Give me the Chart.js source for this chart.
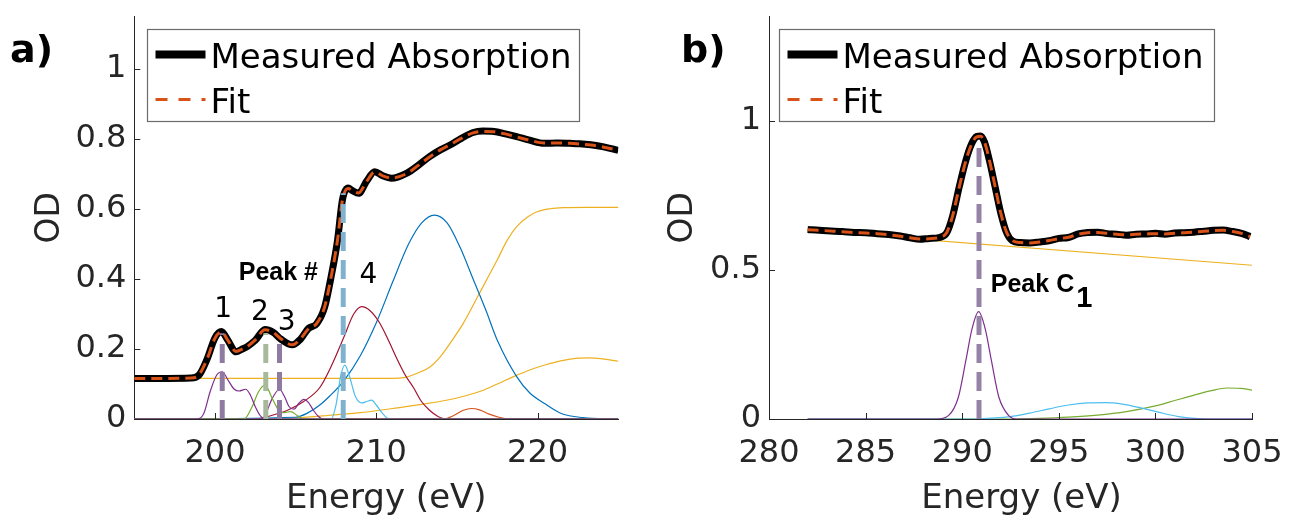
<!DOCTYPE html>
<html>
<head>
<meta charset="utf-8">
<script src="https://cdn.jsdelivr.net/npm/chart.js@4.4.1/dist/chart.umd.min.js"></script>
<style>
  html, body { margin: 0; padding: 0; background: #fff; }
  #wrap { position: relative; width: 1290px; height: 516px; }
  canvas { position: absolute; top: 0; }
  #chart-a { left: 0; }
  #chart-b { left: 645px; }
</style>
</head>
<body>
<div id="wrap">
  <canvas id="chart-a" width="645" height="516"></canvas>
  <canvas id="chart-b" width="645" height="516"></canvas>
</div>
<script>
// ---- panel a: measured spectrum and fit ----
const energyA = [195, 197, 198.5, 199.0, 199.5, 200.0, 200.4, 200.8, 201.3, 201.7, 202.0, 202.5, 203.1, 203.6,
  204.1, 204.8, 205.3, 205.8, 206.3, 206.8, 207.2, 207.6, 207.9, 208.25, 208.55, 208.9, 209.4, 209.9, 210.4,
  210.95, 211.9, 212.6, 213.3, 214.0, 214.6, 215.3, 216.0, 216.6, 217.3, 218.0, 218.7, 219.5, 220.4, 221.2,
  222.0, 222.6, 223.3, 224.1, 225.0];
const measuredA = [0.116, 0.116, 0.117, 0.125, 0.17, 0.232, 0.25, 0.225, 0.192, 0.2, 0.207, 0.225, 0.256, 0.248,
  0.228, 0.212, 0.228, 0.259, 0.272, 0.32, 0.407, 0.512, 0.626, 0.66, 0.652, 0.645, 0.68, 0.707, 0.695,
  0.688, 0.703, 0.725, 0.75, 0.77, 0.784, 0.803, 0.819, 0.823, 0.822, 0.815, 0.807, 0.797, 0.788, 0.789,
  0.788, 0.787, 0.784, 0.778, 0.768];
const fitA = [0.116, 0.116, 0.117, 0.126, 0.17, 0.231, 0.249, 0.225, 0.193, 0.2, 0.207, 0.226, 0.255, 0.248,
  0.229, 0.212, 0.229, 0.258, 0.273, 0.321, 0.406, 0.513, 0.625, 0.659, 0.652, 0.646, 0.679, 0.706, 0.695,
  0.689, 0.702, 0.725, 0.749, 0.77, 0.785, 0.803, 0.818, 0.822, 0.821, 0.815, 0.806, 0.797, 0.789, 0.789,
  0.788, 0.786, 0.783, 0.777, 0.768];

// fitted components, [energy, OD]
const peak1A = [[195, 0], [198.9, 0], [199.3, 0.015], [199.7, 0.078], [200.1, 0.125], [200.45, 0.135], [200.8, 0.112],
  [201.2, 0.085], [201.5, 0.08], [201.9, 0.085], [202.2, 0.068], [202.5, 0.035], [202.8, 0.01], [203.1, 0], [225, 0]];
const peak2A = [[195, 0], [201.8, 0], [202.3, 0.035], [202.7, 0.078], [203.1, 0.097], [203.6, 0.054], [204.1, 0.018],
  [204.4, 0.019], [204.7, 0.021], [205.1, 0.01], [205.5, 0], [225, 0]];
const peak3A = [[195, 0], [202.9, 0], [203.2, 0.02], [203.5, 0.054], [204.0, 0.085], [204.3, 0.065], [204.6, 0.035],
  [204.9, 0.028], [205.2, 0.045], [205.5, 0.056], [205.8, 0.047], [206.1, 0.025], [206.4, 0.008], [206.7, 0], [225, 0]];
const peak4A = [[195, 0], [207.2, 0], [207.5, 0.04], [207.8, 0.125], [208.05, 0.154], [208.35, 0.12], [208.7, 0.065],
  [209.1, 0.046], [209.4, 0.05], [209.7, 0.054], [210.0, 0.04], [210.35, 0.018], [210.8, 0], [225, 0]];
const sigmaA = [[195, 0], [202.5, 0], [203.5, 0.01], [204.5, 0.025], [205.5, 0.05], [206.5, 0.09], [207.2, 0.15],
  [208.0, 0.235], [208.6, 0.3], [209.1, 0.321], [209.6, 0.31], [210.2, 0.275], [210.7, 0.23], [211.3, 0.17],
  [211.8, 0.125], [212.3, 0.09], [212.8, 0.05], [213.3, 0.025], [213.8, 0.008], [214.3, 0], [225, 0]];
const smallA = [[195, 0], [214.2, 0], [214.8, 0.01], [215.4, 0.025], [215.9, 0.03], [216.4, 0.026], [217.0, 0.014],
  [217.6, 0.005], [218.2, 0], [225, 0]];
const broadA = [[195, 0], [205.0, 0.005], [205.7, 0.016], [206.5, 0.04], [207.1, 0.065], [208.0, 0.11], [209.0, 0.18],
  [210.0, 0.275], [211.0, 0.39], [212.0, 0.5], [212.8, 0.56], [213.6, 0.583], [214.4, 0.56], [215.2, 0.49],
  [216.0, 0.4], [216.8, 0.31], [217.5, 0.225], [218.7, 0.121], [219.5, 0.075], [220.4, 0.045], [221.5, 0.015],
  [222.8, 0.004], [225, 0]];
const stepA = [[195, 0.116], [211.0, 0.116], [211.8, 0.119], [212.5, 0.13], [213.3, 0.148], [214.0, 0.18], [214.7, 0.225],
  [215.4, 0.274], [216.4, 0.36], [217.5, 0.455], [218.1, 0.51], [218.7, 0.55], [219.4, 0.578], [220.0, 0.593],
  [220.8, 0.601], [221.6, 0.604], [223, 0.605], [225, 0.605]];
const step2A = [[195, 0], [203.5, 0], [205, 0.003], [207, 0.01], [209, 0.018], [211, 0.03], [213, 0.043], [215, 0.06],
  [216.5, 0.08], [217.5, 0.1], [218.5, 0.121], [219.5, 0.14], [220.5, 0.155], [221.5, 0.167], [222.5, 0.174],
  [223.2, 0.175], [224, 0.172], [225, 0.165]];

// peak markers: [energy, top of marker]
const markersA = [[200.45, 0.245], [203.15, 0.245], [204.0, 0.232], [207.95, 0.645]];

const xTicksA = [200, 210, 220];
const yTicksA = [0, 0.2, 0.4, 0.6, 0.8, 1];

// ---- panel b ----
const energyB = [282.0, 282.6, 283.2, 283.8, 284.4, 285.0, 285.6, 286.2, 286.8, 287.3, 287.8, 288.3, 288.8, 289.2,
  289.5, 289.85, 290.2, 290.5, 290.75, 290.95, 291.15, 291.4, 291.7, 292.0, 292.3, 292.6, 293.0, 293.5, 294.0,
  294.5, 295.0, 295.5, 296.0, 296.5, 297.0, 297.5, 298.0, 298.5, 299.0, 299.5, 300.0, 300.5, 301.0, 301.5,
  302.0, 302.5, 303.0, 303.5, 304.0, 304.5, 304.9];
const measuredB = [0.636, 0.633, 0.631, 0.629, 0.626, 0.625, 0.622, 0.619, 0.614, 0.608, 0.603, 0.606, 0.609, 0.625,
  0.68, 0.78, 0.87, 0.925, 0.948, 0.95, 0.93, 0.87, 0.78, 0.69, 0.625, 0.598, 0.592, 0.591, 0.594,
  0.598, 0.606, 0.609, 0.621, 0.626, 0.627, 0.622, 0.62, 0.617, 0.62, 0.621, 0.623, 0.62, 0.624, 0.625,
  0.627, 0.63, 0.633, 0.634, 0.629, 0.622, 0.612];
const fitB = [0.635, 0.633, 0.631, 0.628, 0.626, 0.624, 0.622, 0.618, 0.613, 0.608, 0.604, 0.605, 0.609, 0.626,
  0.681, 0.779, 0.869, 0.924, 0.947, 0.949, 0.93, 0.871, 0.781, 0.69, 0.626, 0.599, 0.592, 0.591, 0.594,
  0.599, 0.605, 0.61, 0.62, 0.625, 0.626, 0.623, 0.62, 0.618, 0.62, 0.621, 0.622, 0.621, 0.623, 0.625,
  0.627, 0.63, 0.632, 0.633, 0.629, 0.622, 0.612];

const edgeB = [[282, 0.632], [305, 0.516]];
const peakC1B = [[282, 0], [288.7, 0], [289.3, 0.012], [289.8, 0.073], [290.2, 0.2], [290.5, 0.3], [290.85, 0.36],
  [291.2, 0.3], [291.5, 0.2], [291.9, 0.073], [292.4, 0.012], [292.8, 0], [305, 0]];
const bumpB = [[282, 0], [290.5, 0], [291.5, 0.003], [292.5, 0.008], [293.5, 0.02], [294.5, 0.034], [295.5, 0.047],
  [296.5, 0.054], [297.4, 0.055], [298.3, 0.05], [299.2, 0.038], [300.2, 0.022], [301.2, 0.008], [302, 0.002],
  [303, 0], [305, 0]];
const tailB = [[282, 0], [292.5, 0], [294, 0.002], [295.5, 0.006], [297, 0.013], [298.5, 0.025], [300, 0.044],
  [301, 0.062], [302, 0.08], [302.9, 0.095], [303.7, 0.104], [304.4, 0.103], [305, 0.097]];

const markersB = [[290.87, 0.935]];

const xTicksB = [280, 285, 290, 295, 300, 305];
const yTicksB = [0, 0.5, 1];

// ---- styling ----
const FONT = "'DejaVu Sans', sans-serif";
const INK = '#262626';
const C = {
  blue: '#0072BD', orange: '#D95319', yellow: '#EDB120', purple: '#7E2F8E',
  green: '#77AC30', cyan: '#4DBEEE', red: '#A2142F'
};

const pairs = (list) => list.map(([x, y]) => ({ x, y }));
const zip = (xs, ys) => xs.map((x, i) => ({ x, y: ys[i] }));

function component(list, color) {
  return { data: pairs(list), borderColor: color, borderWidth: 1.2 };
}
function marker([e, top], color) {
  return {
    data: [{ x: e, y: 0 }, { x: e, y: top }], borderColor: color, borderWidth: 5,
    borderDash: [19, 9], cubicInterpolationMode: 'default', tension: 0, borderCapStyle: 'butt'
  };
}
function measuredSet(xs, ys) {
  return { label: 'Measured Absorption', data: zip(xs, ys), borderColor: '#000', borderWidth: 7, borderJoinStyle: 'round' };
}
function fitSet(xs, ys) {
  return { label: 'Fit', data: zip(xs, ys), borderColor: C.orange, borderWidth: 3, borderDash: [11, 6] };
}

// MATLAB-style ticks pointing into the axes
const innerTicks = {
  id: 'innerTicks',
  afterDraw(chart) {
    const { ctx, scales: { x, y } } = chart;
    ctx.save();
    ctx.strokeStyle = INK;
    ctx.lineWidth = 1;
    ctx.beginPath();
    x.ticks.forEach(t => {
      const px = Math.round(x.getPixelForValue(t.value)) + 0.5;
      ctx.moveTo(px, x.top);
      ctx.lineTo(px, x.top - 6);
    });
    y.ticks.forEach(t => {
      const py = Math.round(y.getPixelForValue(t.value)) + 0.5;
      ctx.moveTo(y.right, py);
      ctx.lineTo(y.right + 6, py);
    });
    ctx.stroke();
    ctx.restore();
  }
};

// boxed legend in the upper left corner of the plot area
const boxLegend = {
  id: 'boxLegend',
  afterDraw(chart, args, opts) {
    const { ctx, chartArea } = chart;
    const left = Math.round(chartArea.left + opts.dx) + 0.5;
    const top = Math.round(chartArea.top + opts.dy) + 0.5;
    ctx.save();
    ctx.fillStyle = '#fff';
    ctx.fillRect(left, top, opts.w, opts.h);
    ctx.strokeStyle = '#6b6b6b';
    ctx.lineWidth = 1.2;
    ctx.strokeRect(left, top, opts.w, opts.h);
    ctx.font = `34px ${FONT}`;
    ctx.textBaseline = 'alphabetic';
    ctx.textAlign = 'left';
    opts.rows.forEach((idx, i) => {
      const ds = chart.data.datasets[idx];
      const ly = top + 25 + i * 45;
      ctx.beginPath();
      ctx.strokeStyle = ds.borderColor;
      ctx.lineWidth = ds.borderWidth === 7 ? 8 : 3;
      ctx.setLineDash(ds.borderDash ? [12, 11] : []);
      ctx.moveTo(left + 8, ly);
      ctx.lineTo(left + 58, ly);
      ctx.stroke();
      ctx.setLineDash([]);
      ctx.fillStyle = '#000';
      ctx.fillText(ds.label, left + 63, ly + 13);
    });
    ctx.restore();
  }
};

// peak labels placed in data coordinates, the panel tag and the energy axis title
const peakText = {
  id: 'peakText',
  afterDraw(chart, args, opts) {
    const { ctx, chartArea, scales: { x, y } } = chart;
    ctx.save();
    ctx.fillStyle = '#000';
    ctx.textBaseline = 'alphabetic';
    opts.items.forEach(it => {
      ctx.font = it.font;
      ctx.textAlign = it.align || 'center';
      const px = x.getPixelForValue(it.x);
      const py = y.getPixelForValue(it.y);
      ctx.fillText(it.text, px, py);
      if (it.sub) {
        const w = ctx.measureText(it.text).width;
        ctx.font = it.subFont;
        ctx.textAlign = 'left';
        ctx.fillText(it.sub, px + w + 2, py + it.subDrop);
      }
    });
    ctx.font = `bold 38px ${FONT}`;
    ctx.textAlign = 'left';
    ctx.fillText(opts.tag.text, opts.tag.x, opts.tag.y);

    ctx.font = `34px ${FONT}`;
    ctx.fillStyle = INK;
    ctx.textAlign = 'center';
    ctx.fillText(opts.xTitle, (chartArea.left + chartArea.right) / 2 + opts.xTitleShift, 508);
    ctx.restore();
  }
};

function axes(xMin, xMax, xTicks, yMax, yTicks, yWidth, yTitlePad) {
  const tickFont = { family: FONT, size: 32 };
  return {
    x: {
      type: 'linear', min: xMin, max: xMax,
      afterBuildTicks: s => { s.ticks = xTicks.map(v => ({ value: v })); },
      afterFit: s => { s.height = 97; s.paddingLeft = 0; s.paddingRight = 0; },
      grid: { display: false, drawTicks: false },
      border: { display: true, color: INK, width: 1 },
      ticks: { color: INK, font: tickFont, padding: 15, maxRotation: 0, callback: v => String(v) }
    },
    y: {
      type: 'linear', min: 0, max: yMax,
      afterBuildTicks: s => { s.ticks = yTicks.map(v => ({ value: v })); },
      afterFit: s => { s.width = yWidth; s.paddingTop = 0; s.paddingBottom = 0; },
      grid: { display: false, drawTicks: false },
      border: { display: true, color: INK, width: 1 },
      ticks: { color: INK, font: tickFont, padding: 8, callback: v => String(v) },
      title: { display: true, text: 'OD', color: INK, font: { family: FONT, size: 33 }, padding: { top: yTitlePad, bottom: 0 } }
    }
  };
}

const common = {
  responsive: false,
  animation: false,
  devicePixelRatio: 1,
  events: [],
  elements: { point: { radius: 0 }, line: { cubicInterpolationMode: 'monotone', fill: false } },
};

new Chart(document.getElementById('chart-a'), {
  type: 'line',
  data: {
    datasets: [
      marker(markersA[0], '#8f7ba2'),
      marker(markersA[1], '#a6b99b'),
      marker(markersA[2], '#8f7ba2'),
      marker(markersA[3], '#80b2cf'),
      fitSet(energyA, fitA),
      measuredSet(energyA, measuredA),
      component(peak1A, C.purple),
      component(peak2A, C.green),
      component(peak3A, C.purple),
      component(peak4A, C.cyan),
      component(sigmaA, C.red),
      component(smallA, C.orange),
      component(broadA, C.blue),
      component(stepA, C.yellow),
      component(step2A, C.yellow)
    ]
  },
  options: {
    ...common,
    layout: { padding: { left: 0, top: 16.7, right: 26.7, bottom: 0 } },
    scales: axes(195, 225, xTicksA, 1.15, yTicksA, 134.3, 31),
    plugins: {
      legend: { display: false },
      tooltip: { enabled: false },
      boxLegend: { dx: 13, dy: 12, w: 432, h: 92, rows: [5, 4] },
      peakText: {
        tag: { text: 'a)', x: 10, y: 62 },
        xTitle: 'Energy (eV)', xTitleShift: 10,
        items: [
          { text: '1', x: 200.51, y: 0.291, font: `28px ${FONT}` },
          { text: '2', x: 202.78, y: 0.283, font: `28px ${FONT}` },
          { text: '3', x: 204.44, y: 0.2545, font: `28px ${FONT}` },
          { text: '4', x: 209.51, y: 0.388, font: `28px ${FONT}` },
          { text: 'Peak #', x: 203.93, y: 0.3975, font: "bold 25px 'Liberation Sans', sans-serif" }
        ]
      }
    }
  },
  plugins: [innerTicks, boxLegend, peakText]
});

new Chart(document.getElementById('chart-b'), {
  type: 'line',
  data: {
    datasets: [
      marker(markersB[0], '#9582a6'),
      fitSet(energyB, fitB),
      measuredSet(energyB, measuredB),
      component(edgeB, C.yellow),
      component(peakC1B, C.purple),
      component(bumpB, C.cyan),
      component(tailB, C.green)
    ]
  },
  options: {
    ...common,
    layout: { padding: { left: 0, top: 16.7, right: 38, bottom: 0 } },
    scales: axes(280, 305, xTicksB, 1.35, yTicksB, 124, 19),
    plugins: {
      legend: { display: false },
      tooltip: { enabled: false },
      boxLegend: { dx: 9.5, dy: 12.6, w: 435, h: 92, rows: [2, 1] },
      peakText: {
        tag: { text: 'b)', x: 36, y: 62 },
        xTitle: 'Energy (eV)', xTitleShift: 11,
        items: [
          {
            text: 'Peak C', x: 291.48, y: 0.4266, align: 'left', font: "bold 25px 'Liberation Sans', sans-serif",
            sub: '1', subFont: "bold 29px 'Liberation Sans', sans-serif", subDrop: 15
          }
        ]
      }
    }
  },
  plugins: [innerTicks, boxLegend, peakText]
});
</script>
</body>
</html>
